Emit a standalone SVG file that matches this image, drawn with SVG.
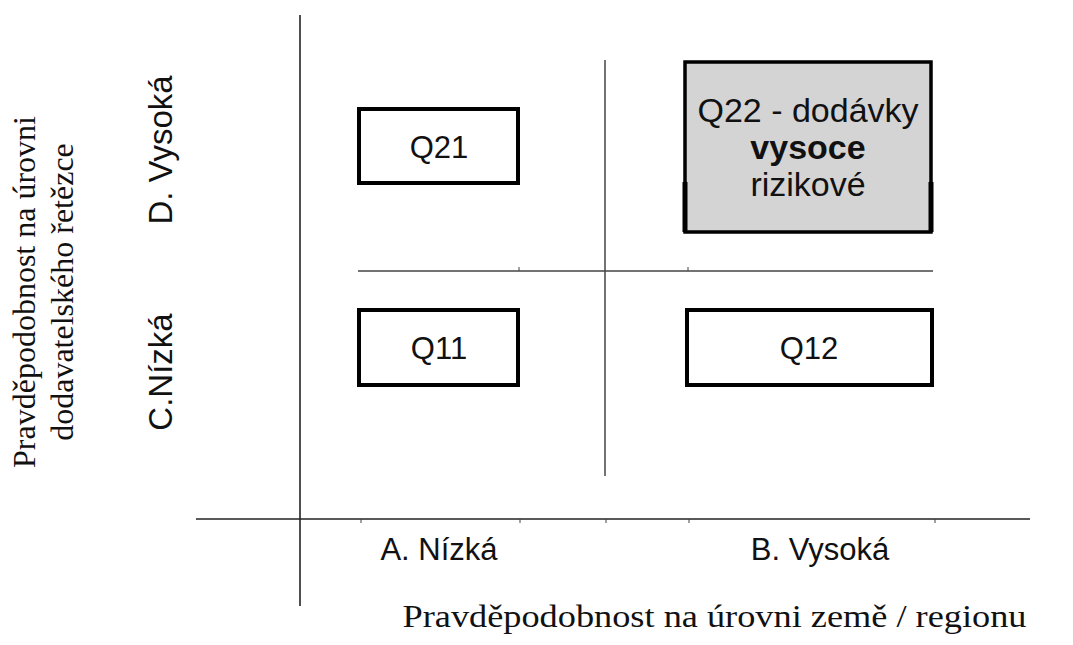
<svg xmlns="http://www.w3.org/2000/svg" width="1073" height="645" viewBox="0 0 1073 645">
<style>
.box{fill:#fff;stroke:#000;stroke-width:4}
.hot{fill:#d4d4d4;stroke:#000;stroke-width:3.5}
.lbl{font-family:"Liberation Sans",Arial,sans-serif;font-size:31px;fill:#111;text-anchor:middle}
.big{font-size:34px}
.ax{font-family:"Liberation Sans",Arial,sans-serif;font-size:31px;fill:#111;text-anchor:middle}
.vax{font-size:33px}
.ttl{font-family:"Liberation Serif","Times New Roman",serif;font-size:32px;fill:#111;text-anchor:middle}
.line{stroke:#222;stroke-width:1.6;fill:none}
.grid{stroke:#444;stroke-width:1.5;fill:none}
.tick{stroke:#444;stroke-width:1;fill:none}
</style>
<rect width="1073" height="645" fill="#fff"/>
<g id="connectors">
<line class="line" x1="300" y1="15" x2="300" y2="606"/>
<line class="line" x1="196" y1="519" x2="1030" y2="519"/>
<line class="grid" x1="605" y1="60" x2="605" y2="476"/>
<line class="grid" x1="358" y1="271" x2="933" y2="271"/>
<path class="tick" d="M519 271v-4M688 271v-4M361 519v4M520 519v4M606 519v4M689 519v4M935 519v4"/>
</g>
<g id="Q21"><rect class="box" x="359" y="109" width="159" height="74"/><text class="lbl" x="439" y="158">Q21</text></g>
<g id="Q22"><rect class="hot" x="685" y="62" width="246" height="170"/>
<path d="M685 182V232M931 182V232" stroke="#000" stroke-width="5"/>
<text class="lbl big" x="808" y="122">Q22 - dodávky</text>
<text class="lbl big" x="808" y="159" font-weight="bold">vysoce</text>
<text class="lbl big" x="808" y="196">rizikové</text></g>
<g id="Q11"><rect class="box" x="359" y="310" width="159" height="75"/><text class="lbl" x="439" y="359">Q11</text></g>
<g id="Q12"><rect class="box" x="687" y="310" width="245" height="75"/><text class="lbl" x="809" y="359">Q12</text></g>
<g id="axis-x-labels">
<text class="ax" x="439" y="560">A. Nízká</text>
<text class="ax" x="820" y="560">B. Vysoká</text>
<text class="ttl" x="714.5" y="627" font-size="40" textLength="624" lengthAdjust="spacingAndGlyphs">Pravděpodobnost na úrovni země / regionu</text>
</g>
<g id="axis-y-labels">
<text class="ax vax" transform="translate(172,150) rotate(-90)">D. Vysoká</text>
<text class="ax vax" transform="translate(172,372) rotate(-90)">C.Nízká</text>
<text class="ttl" transform="translate(35,292) rotate(-90)">Pravděpodobnost na  úrovni</text>
<text class="ttl" transform="translate(73,292) rotate(-90)">dodavatelského řetězce</text>
</g>
</svg>
